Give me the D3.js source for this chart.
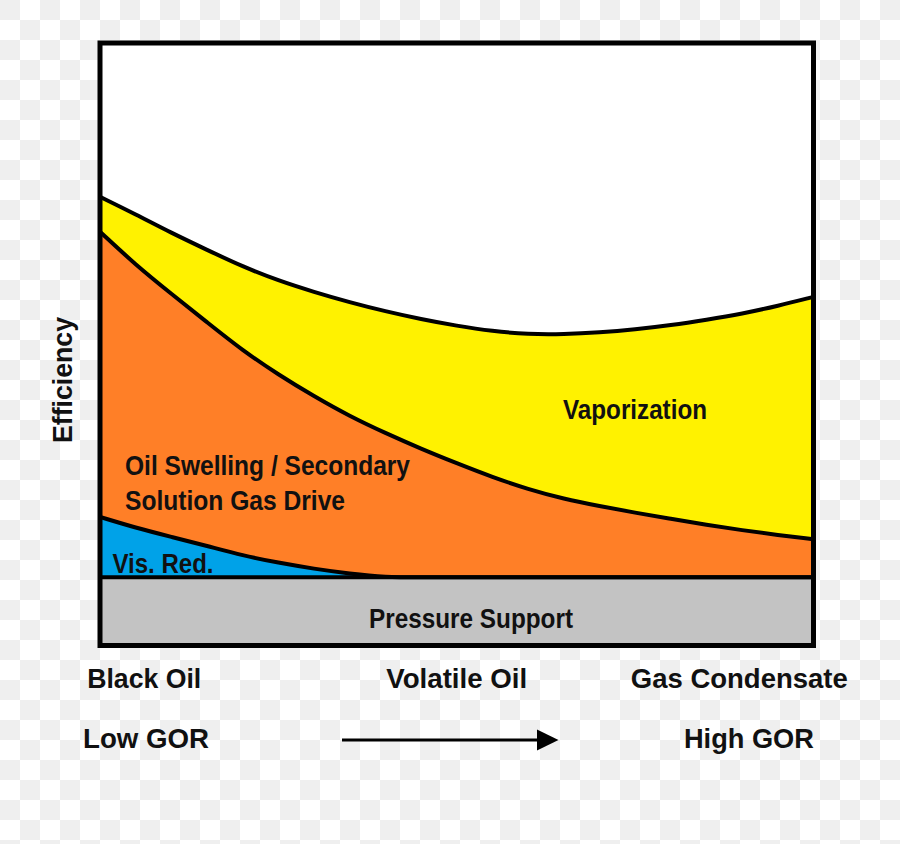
<!DOCTYPE html>
<html>
<head>
<meta charset="utf-8">
<script src="https://cdn.jsdelivr.net/npm/d3@7"></script>
<style>
  html, body { margin: 0; padding: 0; }
  body {
    width: 900px; height: 844px; overflow: hidden;
    background-color: #ffffff;
    background-image:
      linear-gradient(45deg, #efefef 25%, transparent 25%, transparent 75%, #efefef 75%),
      linear-gradient(45deg, #efefef 25%, transparent 25%, transparent 75%, #efefef 75%);
    background-size: 40px 40px;
    background-position: 0 20px, 20px 0;
  }
  svg { display: block; }
  text { font-family: "Liberation Sans", Arial, sans-serif; font-weight: bold; fill: #111; }
</style>
</head>
<body>
<svg id="chart" width="900" height="844"></svg>
<script>
// ---- data (efficiency contributions, stacked bottom-up) ----
const gorSteps = [0, 5, 10, 15, 20, 25, 30, 35, 40, 45, 50, 55, 60, 65, 70, 75, 80, 85, 90, 95, 100];
const pressureSupport = [11.4, 11.4, 11.4, 11.4, 11.4, 11.4, 11.4, 11.4, 11.4, 11.4, 11.4, 11.4, 11.4, 11.4, 11.4, 11.4, 11.4, 11.4, 11.4, 11.4, 11.4];
const viscosityReduction = [10.0, 8.2, 6.7, 5.2, 3.6, 2.4, 1.4, 0.6, 0, 0, 0, 0, 0, 0, 0, 0, 0, 0, 0, 0, 0];
const oilSwelling = [47.3, 43.6, 40.3, 37.1, 34.0, 31.2, 28.6, 26.1, 23.9, 21.3, 18.9, 16.6, 14.6, 13.0, 11.8, 10.7, 9.7, 8.7, 7.8, 7.0, 6.3];
const vaporization = [5.8, 8.4, 10.1, 12.0, 13.9, 15.6, 17.3, 18.9, 20.2, 21.5, 22.8, 24.2, 25.7, 27.3, 28.8, 30.4, 32.1, 34.0, 35.9, 38.0, 40.2];

const seriesKeys = ["pressure", "visRed", "oil", "vap"];
const seriesColors = ["#c3c3c3", "#00a2e8", "#ff7f27", "#fff200"];

const fluidLabels = ["Black Oil", "Volatile Oil", "Gas Condensate"];
const fluidPositions = [6.2, 50, 89.6];
const gorLabels = ["Low GOR", "High GOR"];
const gorLabelPositions = [6.45, 90.95];

// ---- layout ----
const svg = d3.select("#chart");
const x = d3.scaleLinear().domain([0, 100]).range([100, 813.5]);
const y = d3.scaleLinear().domain([0, 100]).range([646, 43]);

const table = gorSteps.map((g, i) => ({
  g,
  pressure: pressureSupport[i],
  visRed: viscosityReduction[i],
  oil: oilSwelling[i],
  vap: vaporization[i]
}));

const stacked = d3.stack().keys(seriesKeys)(table);

svg.append("defs").append("clipPath").attr("id", "plotClip")
  .append("rect").attr("x", x(0)).attr("y", y(100))
  .attr("width", x(100) - x(0)).attr("height", y(0) - y(100));

// plot background
svg.append("rect").attr("x", x(0)).attr("y", y(100))
  .attr("width", x(100) - x(0)).attr("height", y(0) - y(100))
  .attr("fill", "#ffffff");

const plot = svg.append("g").attr("clip-path", "url(#plotClip)");

const area = d3.area()
  .x(d => x(d.data.g))
  .y0(d => y(d[0]))
  .y1(d => y(d[1]))
  .curve(d3.curveBasis);

const topLine = d3.line()
  .x(d => x(d.data.g))
  .y(d => y(d[1]))
  .curve(d3.curveBasis);

plot.selectAll("path.layer")
  .data(stacked)
  .join("path")
  .attr("class", "layer")
  .attr("d", area)
  .attr("fill", (d, i) => seriesColors[i]);

plot.selectAll("path.edge")
  .data(stacked)
  .join("path")
  .attr("class", "edge")
  .attr("d", topLine)
  .attr("fill", "none")
  .attr("stroke", "#000")
  .attr("stroke-width", 4);

// frame
svg.append("rect").attr("x", x(0)).attr("y", y(100))
  .attr("width", x(100) - x(0)).attr("height", y(0) - y(100) - 0.5)
  .attr("fill", "none").attr("stroke", "#000").attr("stroke-width", 5);

// region labels
function label(txt, tx, ty, len, size) {
  svg.append("text").attr("x", tx).attr("y", ty)
    .attr("font-size", size)
    .attr("textLength", len).attr("lengthAdjust", "spacingAndGlyphs")
    .text(txt);
}
label("Pressure Support", 369, 628, 204, 27);
label("Vaporization", 563, 418.5, 144, 27.5);
label("Oil Swelling / Secondary", 125, 474.5, 285, 27);
label("Solution Gas Drive", 125, 509.5, 220, 27);
label("Vis. Red.", 112.5, 572.5, 101, 27);

// x-axis category labels
const fluidWidths = [114, 141, 217];
svg.selectAll("text.fluid")
  .data(fluidLabels)
  .join("text")
  .attr("class", "fluid")
  .attr("x", (d, i) => x(fluidPositions[i]))
  .attr("y", 687.5)
  .attr("text-anchor", "middle")
  .attr("font-size", 28)
  .attr("textLength", (d, i) => fluidWidths[i])
  .attr("lengthAdjust", "spacingAndGlyphs")
  .text(d => d);

const gorWidths = [126, 130];
svg.selectAll("text.gor")
  .data(gorLabels)
  .join("text")
  .attr("class", "gor")
  .attr("x", (d, i) => x(gorLabelPositions[i]))
  .attr("y", 747.5)
  .attr("text-anchor", "middle")
  .attr("font-size", 28)
  .attr("textLength", (d, i) => gorWidths[i])
  .attr("lengthAdjust", "spacingAndGlyphs")
  .text(d => d);

// arrow
svg.append("line").attr("x1", 342).attr("y1", 740).attr("x2", 540).attr("y2", 740)
  .attr("stroke", "#000").attr("stroke-width", 3);
svg.append("path").attr("d", "M537,729.5 L558.5,740 L537,750.5 Z").attr("fill", "#000");

// y-axis title
svg.append("text")
  .attr("transform", "translate(71.5,380) rotate(-90)")
  .attr("text-anchor", "middle")
  .attr("font-size", 28)
  .attr("textLength", 126).attr("lengthAdjust", "spacingAndGlyphs")
  .text("Efficiency");
</script>
</body>
</html>
